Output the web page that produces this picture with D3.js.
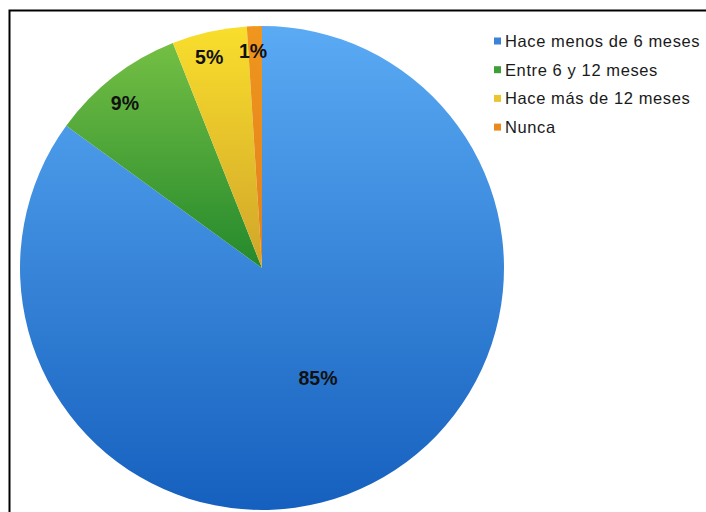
<!DOCTYPE html>
<html>
<head>
<meta charset="utf-8">
<script src="https://cdn.jsdelivr.net/npm/d3@7/dist/d3.min.js"></script>
<style>
  html, body { margin: 0; padding: 0; background: #fff; }
  svg { display: block; }
</style>
</head>
<body>
<svg id="chart" width="706" height="512"></svg>
<script>
// Cuándo fue la última vez — distribución de respuestas
const categories = ["Hace menos de 6 meses", "Entre 6 y 12 meses", "Hace más de 12 meses", "Nunca"];
const values = [85, 9, 5, 1];
const labels = ["85%", "9%", "5%", "1%"];
const colorsTop = ["#5aaaf4", "#74bf44", "#f9de2c", "#f0961e"];
const colorsBottom = ["#1560be", "#24892c", "#d1a52a", "#e07f1a"];
const legendColors = ["#3b82d8", "#3f9e37", "#e9c531", "#ea8a1e"];

const svg = d3.select("#chart");
const W = 706, H = 512;
const cx = 262, cy = 268, R = 242;

// Frame around the chart area
svg.append("rect")
  .attr("x", 9.5).attr("y", 10.5)
  .attr("width", W + 20).attr("height", H + 20)
  .attr("fill", "#fff")
  .attr("stroke", "#000")
  .attr("stroke-width", 2);

const defs = svg.append("defs");
categories.forEach((c, i) => {
  const g = defs.append("linearGradient")
    .attr("id", "grad" + i)
    .attr("x1", 0).attr("y1", 0).attr("x2", 0).attr("y2", 1);
  g.append("stop").attr("offset", "0%").attr("stop-color", colorsTop[i]);
  g.append("stop").attr("offset", "100%").attr("stop-color", colorsBottom[i]);
});

const pie = d3.pie().sort(null).value(d => d)
  .startAngle(0).endAngle(2 * Math.PI);
const arcs = pie(values);
const arc = d3.arc().innerRadius(0).outerRadius(R);

const g = svg.append("g").attr("transform", `translate(${cx},${cy})`);

g.selectAll("path.slice")
  .data(arcs)
  .join("path")
  .attr("class", "slice")
  .attr("d", arc)
  .attr("fill", (d, i) => `url(#grad${i})`);

// Percentage labels placed near each slice's bisector
const labelRadius = [0.51, 0.885, 0.90, 0.895];
const labelShift = [0, -0.035, -0.025, -0.01]; // small angular nudge (radians)
g.selectAll("text.pct")
  .data(arcs)
  .join("text")
  .attr("class", "pct")
  .attr("transform", (d, i) => {
    const a = (d.startAngle + d.endAngle) / 2 + labelShift[i];
    const r = R * labelRadius[i];
    return `translate(${Math.sin(a) * r},${-Math.cos(a) * r})`;
  })
  .attr("text-anchor", "middle")
  .attr("dy", "0.35em")
  .attr("font-family", "Liberation Sans, Arial, sans-serif")
  .attr("font-weight", "bold")
  .attr("font-size", 19.5)
  .attr("fill", "#111")
  .text((d, i) => labels[i]);

// Legend
const legend = svg.append("g").attr("transform", "translate(494,41)");
const rowH = 28.7;
const items = legend.selectAll("g.item")
  .data(categories)
  .join("g")
  .attr("class", "item")
  .attr("transform", (d, i) => `translate(0,${i * rowH})`);
items.append("rect")
  .attr("x", 0).attr("y", -3.5)
  .attr("width", 7).attr("height", 7)
  .attr("fill", (d, i) => legendColors[i]);
items.append("text")
  .attr("x", 11).attr("y", 0)
  .attr("dy", "0.36em")
  .attr("font-family", "Liberation Sans, Arial, sans-serif")
  .attr("font-size", 16.5)
  .attr("letter-spacing", 0.6)
  .attr("fill", "#1a1a1a")
  .text(d => d);
</script>
</body>
</html>
